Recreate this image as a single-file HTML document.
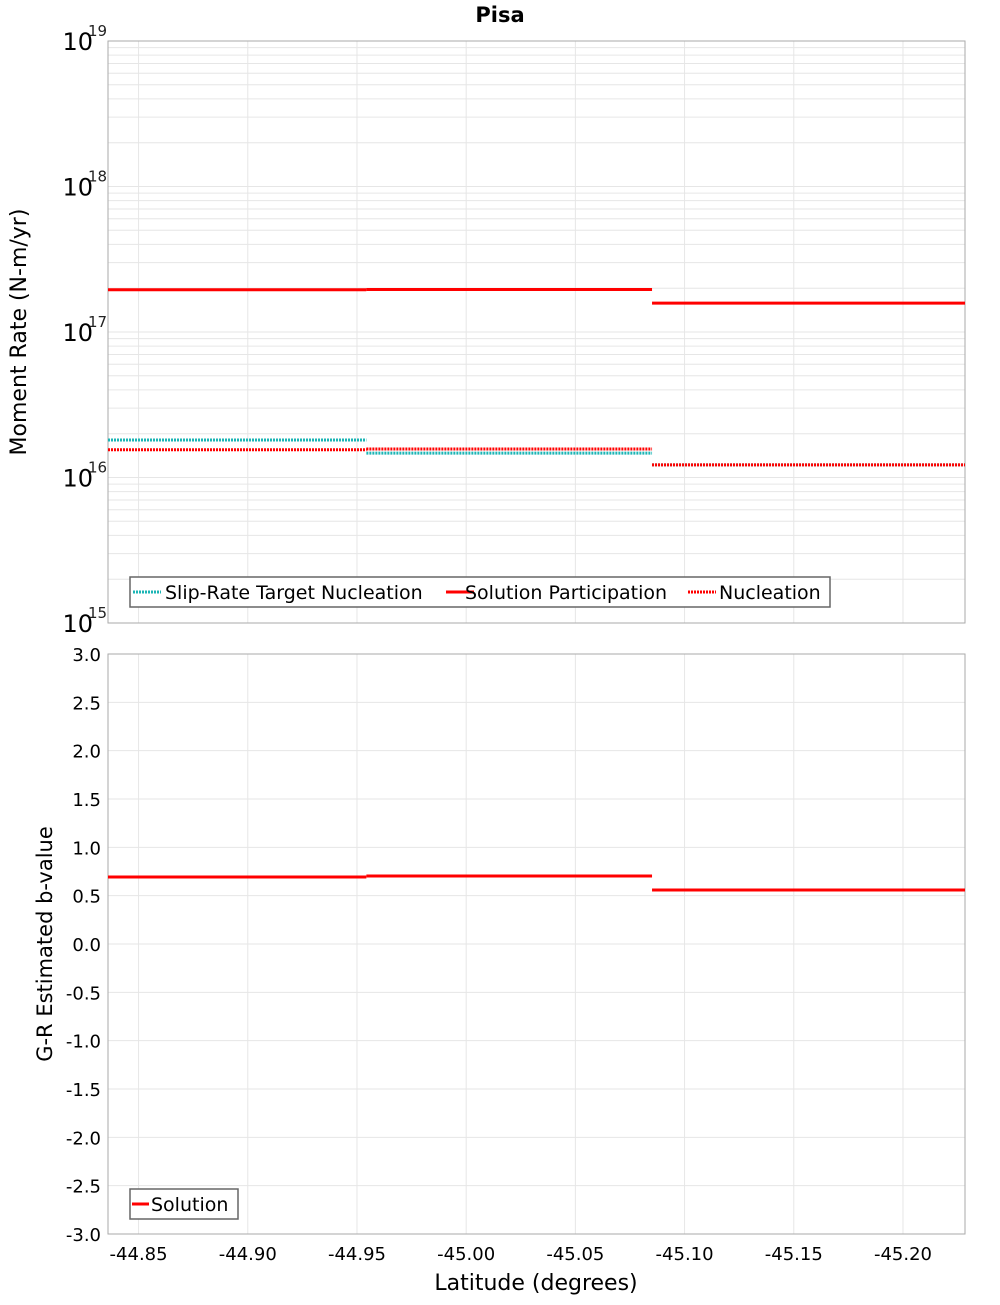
<!DOCTYPE html>
<html><head><meta charset="utf-8"><style>
body{margin:0;background:#fff}
svg text{font-family:"DejaVu Sans","Liberation Sans",sans-serif}
</style></head><body>
<svg id="chart" width="1000" height="1300" xmlns="http://www.w3.org/2000/svg">
<text x="500" y="22" text-anchor="middle" font-size="21" font-weight="bold">Pisa</text>
<g id="topPanel"></g>
<g id="botPanel"></g>
<text transform="translate(26,332) rotate(-90)" text-anchor="middle" font-size="22">Moment Rate (N-m/yr)</text>
<text transform="translate(52,944) rotate(-90)" text-anchor="middle" font-size="21">G-R Estimated b-value</text>
<text x="536" y="1290" text-anchor="middle" font-size="22">Latitude (degrees)</text>
</svg>
<script>
const segStarts = [-44.836, -44.9543, -45.0851];
const segEnds = [-44.9543, -45.0851, -45.2284];
const slipTarget = [1.81e16, 1.47e16, 1.22e16];
const solutionPart = [1.95e17, 1.96e17, 1.58e17];
const nucleation = [1.55e16, 1.57e16, 1.22e16];
const bValues = [0.693, 0.704, 0.559];
const xTicks = [-44.85, -44.90, -44.95, -45.00, -45.05, -45.10, -45.15, -45.20];
const logTicks = [15, 16, 17, 18, 19];
const bTicks = [3.0, 2.5, 2.0, 1.5, 1.0, 0.5, 0.0, -0.5, -1.0, -1.5, -2.0, -2.5, -3.0];

const NS = "http://www.w3.org/2000/svg";
const L = 108, R = 965, T1 = 41, B1 = 623, T2 = 654, B2 = 1234;
const xMin = -44.836, xMax = -45.2284;
const xs = v => L + (v - xMin) / (xMax - xMin) * (R - L);
const ylog = v => B1 - (Math.log10(v) - 15) / 4 * (B1 - T1);
const yb = v => B2 - (v + 3) / 6 * (B2 - T2);
function mk(parent, tag, attrs, txt) {
  const e = document.createElementNS(NS, tag);
  for (const k in attrs) e.setAttribute(k, attrs[k]);
  if (txt !== undefined) e.textContent = txt;
  parent.appendChild(e); return e;
}
const topG = document.getElementById('topPanel'), botG = document.getElementById('botPanel');
const grid = '#e6e6e6';
xTicks.forEach(t => {
  [[topG, T1, B1], [botG, T2, B2]].forEach(([g, a, b]) => {
    const l = mk(g, 'line', {x1: xs(t), x2: xs(t), y1: a, y2: b, stroke: grid});
    
    
  });
  const tx = mk(botG, 'text', {x: xs(t), y: 1260, 'text-anchor': 'middle', 'font-size': 18}, t.toFixed(2));
  
  
});
for (let d = 15; d < 19; d++) for (let m = 1; m < 10; m++) {
  const y = ylog(m * Math.pow(10, d));
  const l = mk(topG, 'line', {x1: L, x2: R, y1: y, y2: y, stroke: grid});
  
  
}
logTicks.forEach(d => {
  const y = ylog(Math.pow(10, d));
  const t = mk(topG, 'text', {x: 93, y: y + 9, 'text-anchor': 'end', 'font-size': 24}, '10');
  
  
  const s = mk(topG, 'text', {x: 88, y: y - 5, 'font-size': 15, fill: '#222'}, String(d));
  
  
});
bTicks.forEach(v => {
  const y = yb(v);
  const l = mk(botG, 'line', {x1: L, x2: R, y1: y, y2: y, stroke: grid});
  
  
  const t = mk(botG, 'text', {x: 101, y: y + 7, 'text-anchor': 'end', 'font-size': 18}, v.toFixed(1));
  
  
});
[[topG, T1, B1], [botG, T2, B2]].forEach(([g, a, b]) => {
  const r = mk(g, 'rect', {x: L, y: a, width: R - L, height: b - a, fill: 'none', stroke: '#aaa'});
  
  
});
function series(g, arr, yf, color, dash, name) {
  arr.forEach((v, i) => {
    const a = {x1: xs(segStarts[i]), x2: xs(segEnds[i]), y1: yf(v), y2: yf(v), stroke: color, 'stroke-width': 3};
    if (dash) a['stroke-dasharray'] = '2,1';
    const l = mk(g, 'line', a);
    
    
  });
}
series(topG, slipTarget, ylog, '#1bb5b5', true, 'slip-rate-target-segment');
series(topG, solutionPart, ylog, '#f00', false, 'solution-participation-segment');
series(topG, nucleation, ylog, '#f00', true, 'nucleation-segment');
series(botG, bValues, yb, '#f00', false, 'solution-b-value-segment');
const lg1 = mk(topG, 'g', {});


mk(lg1, 'rect', {x: 130, y: 577, width: 700, height: 30, fill: '#fff', stroke: '#666', 'stroke-width': 1.5});
[[133, '#1bb5b5', true, 'Slip-Rate Target Nucleation', 165],
 [446, '#f00', false, 'Solution Participation', 465],
 [688, '#f00', true, 'Nucleation', 719]].forEach(([x, c, d, txt, tx]) => {
  const a = {x1: x, x2: x + 28, y1: 592, y2: 592, stroke: c, 'stroke-width': 3};
  if (d) a['stroke-dasharray'] = '2,1';
  const l = mk(lg1, 'line', a);
  
  
  const t = mk(lg1, 'text', {x: tx, y: 599, 'font-size': 19}, txt);
  
  
});
const lg2 = mk(botG, 'g', {});


mk(lg2, 'rect', {x: 130, y: 1189, width: 108, height: 30, fill: '#fff', stroke: '#666', 'stroke-width': 1.5});
const sw = mk(lg2, 'line', {x1: 132, x2: 149, y1: 1204, y2: 1204, stroke: '#f00', 'stroke-width': 3});


const lt = mk(lg2, 'text', {x: 151, y: 1211, 'font-size': 19}, 'Solution');


</script>
</body></html>
